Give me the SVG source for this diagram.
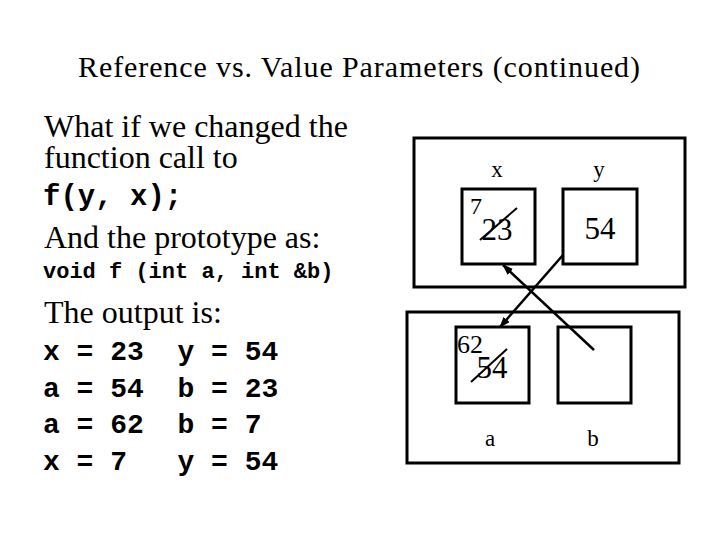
<svg xmlns="http://www.w3.org/2000/svg" width="720" height="540" viewBox="0 0 720 540">
<style>
.serif{font-family:"Liberation Serif","Times New Roman",serif;fill:#000}
.mono{font-family:"Liberation Mono","Courier New",monospace;font-weight:bold;fill:#000;white-space:pre}
.box{fill:none;stroke:#000;stroke-width:3}
.conn{stroke:#000;stroke-width:2.5;fill:none}
.strike{stroke:#000;stroke-width:2;fill:none}
</style>
<defs>
<marker id="arr" markerUnits="userSpaceOnUse" markerWidth="11" markerHeight="8" refX="10" refY="4" orient="auto">
<path d="M0,0 L11,4 L0,8 z" fill="#000"/>
</marker>
</defs>
<rect width="720" height="540" fill="#fff"/>
<text class="serif" x="78" y="77" font-size="30" textLength="562" lengthAdjust="spacing">Reference vs. Value Parameters (continued)</text>
<g id="text-left">
<text class="serif" x="44" y="137" font-size="32">What if we changed the</text>
<text class="serif" x="44" y="168" font-size="32">function call to</text>
<text class="mono" x="43" y="205" font-size="29">f(y, x);</text>
<text class="serif" x="44" y="248" font-size="32">And the prototype as:</text>
<text class="mono" x="43" y="278" font-size="22">void f (int a, int &amp;b)</text>
<text class="serif" x="44" y="323" font-size="32">The output is:</text>
<text class="mono" x="43" y="360" font-size="28">x = 23  y = 54</text>
<text class="mono" x="43" y="397" font-size="28">a = 54  b = 23</text>
<text class="mono" x="43" y="433" font-size="28">a = 62  b = 7</text>
<text class="mono" x="43" y="470" font-size="28">x = 7   y = 54</text>
</g>
<g id="main-frame">
<rect class="box" x="414" y="138" width="271" height="149"/>
</g>
<g id="node-x">
<text class="serif" x="497" y="177" font-size="23" text-anchor="middle">x</text>
<rect class="box" x="462" y="189" width="73" height="75"/>
<text class="serif" x="470" y="214" font-size="24">7</text>
<text class="serif" x="497" y="240" font-size="31" text-anchor="middle">23</text>
<line class="strike" x1="480" y1="240" x2="517" y2="208"/>
</g>
<g id="node-y">
<text class="serif" x="599" y="177" font-size="23" text-anchor="middle">y</text>
<rect class="box" x="563" y="189" width="74" height="75"/>
<text class="serif" x="600" y="239" font-size="31" text-anchor="middle">54</text>
</g>
<g id="f-frame">
<rect class="box" x="407" y="312" width="272" height="151"/>
</g>
<g id="node-a">
<rect class="box" x="456" y="327" width="73" height="76"/>
<text class="serif" x="457" y="353" font-size="26">62</text>
<text class="serif" x="492" y="378" font-size="31" text-anchor="middle">54</text>
<line class="strike" x1="471" y1="382" x2="507" y2="349"/>
<text class="serif" x="490" y="446" font-size="23" text-anchor="middle">a</text>
</g>
<g id="node-b">
<rect class="box" x="558" y="327" width="73" height="76"/>
<text class="serif" x="593" y="446" font-size="23" text-anchor="middle">b</text>
</g>
<g id="connectors">
<line class="conn" x1="563" y1="255" x2="500" y2="327" marker-end="url(#arr)"/>
<line class="conn" x1="594" y1="350" x2="503" y2="265" marker-end="url(#arr)"/>
</g>
</svg>
